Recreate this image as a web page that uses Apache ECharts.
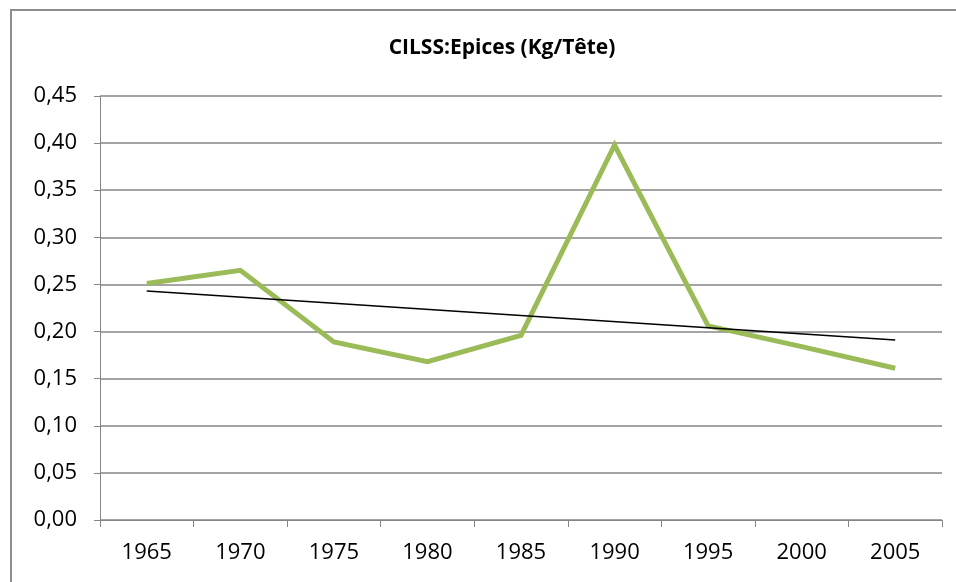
<!DOCTYPE html>
<html>
<head>
<meta charset="utf-8">
<script src="https://cdn.jsdelivr.net/npm/echarts@6/dist/echarts.min.js"></script>
<style>
    html, body { margin: 0; padding: 0; background: #fff; }
    #chart { width: 956px; height: 582px; }
</style>
</head>
<body>
<div id="chart"></div>
<script>
// données
const years = ['1965', '1970', '1975', '1980', '1985', '1990', '1995', '2000', '2005'];
const epices = [0.251, 0.265, 0.189, 0.168, 0.196, 0.398, 0.206, 0.184, 0.161];
// courbe de tendance (extrémités seulement)
const tendance = [0.243, null, null, null, null, null, null, null, 0.191];
const yTicks = [0, 0.05, 0.10, 0.15, 0.20, 0.25, 0.30, 0.35, 0.40, 0.45];

const gris = '#868686';
const police = '"Open Sans", "Noto Sans", sans-serif';

const chart = echarts.init(document.getElementById('chart'));
chart.setOption({
    animation: false,
    backgroundColor: '#fff',
    title: {
        text: 'CILSS:Epices (Kg/Tête)',
        left: 497,
        top: 33,
        textAlign: 'center',
        textStyle: { fontFamily: police, fontWeight: 'bold', fontSize: 21, color: '#000' }
    },
    graphic: [{
        type: 'rect',
        shape: { x: 11, y: 10, width: 1000, height: 1000 },
        style: { fill: 'none', stroke: '#8c8c8c', lineWidth: 2 },
        silent: true
    }],
    grid: { left: 100, right: 14, top: 96, bottom: 62 },
    xAxis: {
        type: 'category',
        data: years,
        boundaryGap: true,
        axisLine: { lineStyle: { color: gris, width: 1 } },
        axisTick: { show: true, length: 7, lineStyle: { color: gris } },
        axisLabel: { fontFamily: police, fontSize: 22, color: '#000', margin: 22 },
        splitLine: { show: false }
    },
    yAxis: {
        type: 'value',
        min: yTicks[0],
        max: yTicks[yTicks.length - 1],
        interval: 0.05,
        axisLine: { show: true, lineStyle: { color: gris, width: 1 } },
        axisTick: { show: true, length: 6, lineStyle: { color: gris } },
        axisLabel: {
            fontFamily: police, fontSize: 22, color: '#000', margin: 23,
            formatter: v => v.toFixed(2).replace('.', ',')
        },
        splitLine: { show: true, lineStyle: { color: gris, width: 1.5 } }
    },
    series: [
        {
            name: 'Epices',
            type: 'line',
            data: epices,
            symbol: 'none',
            lineStyle: { color: '#9bbb59', width: 5, join: 'miter' },
            itemStyle: { color: '#9bbb59' },
            z: 3
        },
        {
            name: 'Tendance',
            type: 'line',
            data: tendance,
            connectNulls: true,
            symbol: 'none',
            lineStyle: { color: '#000', width: 1.5 },
            itemStyle: { color: '#000' },
            z: 4
        }
    ]
});
</script>
</body>
</html>
